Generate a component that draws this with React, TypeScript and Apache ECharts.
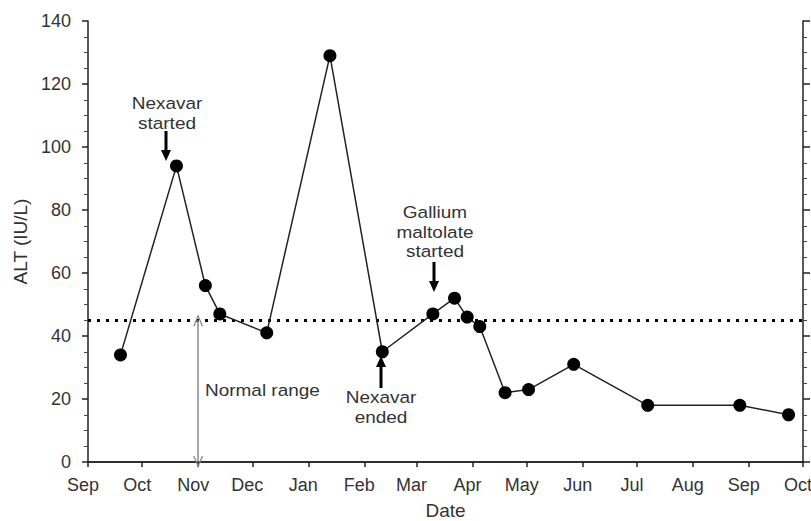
import React, { useEffect, useRef } from "react";
import * as echarts from "echarts";

const dates = [
  "2007-09-19", "2007-10-20", "2007-11-05", "2007-11-13", "2007-12-09",
  "2008-01-13", "2008-02-11", "2008-03-10", "2008-03-22", "2008-03-29",
  "2008-04-05", "2008-04-19", "2008-05-02", "2008-05-27", "2008-07-07",
  "2008-08-27", "2008-09-23",
];
const altValues = [34, 94, 56, 47, 41, 129, 35, 47, 52, 46, 43, 22, 23, 31, 18, 18, 15];
const monthNames = ["Jan", "Feb", "Mar", "Apr", "May", "Jun", "Jul", "Aug", "Sep", "Oct", "Nov", "Dec"];
const xMin = "2007-09-01";
const xMax = "2008-10-01";
const normalLimit = 45;
const normalArrowDate = "2007-11-01";

const FONT = "Liberation Sans, Arial, sans-serif";

function downArrow(x: number, y0: number, y1: number) {
  return [
    { type: "line", shape: { x1: x, y1: y0, x2: x, y2: y1 - 9 }, style: { stroke: "#000", lineWidth: 3 } },
    { type: "polygon", shape: { points: [[x - 5, y1 - 11], [x + 5, y1 - 11], [x, y1]] }, style: { fill: "#000" } },
  ];
}
function upArrow(x: number, y0: number, y1: number) {
  return [
    { type: "line", shape: { x1: x, y1: y0 + 9, x2: x, y2: y1 }, style: { stroke: "#000", lineWidth: 3 } },
    { type: "polygon", shape: { points: [[x - 5, y0 + 11], [x + 5, y0 + 11], [x, y0]] }, style: { fill: "#000" } },
  ];
}
function note(x: number, y: number, text: string, align = "center") {
  return {
    type: "text",
    x,
    y,
    scaleX: 1.15,
    style: { text, fill: "#333", font: `16.5px ${FONT}`, align, verticalAlign: "top", lineHeight: 19.5 },
  };
}

const chevron = "path://M0,10 L5,0 L10,10 L8.6,10 L5,2.6 L1.4,10 Z";

export default function App() {
  const ref = useRef<HTMLDivElement>(null);
  useEffect(() => {
    if (!ref.current) return;
    const chart = echarts.init(ref.current, undefined, { renderer: "svg" });
    const fmt = (v: number) => monthNames[new Date(v).getMonth()];
    const yCommon = {
      type: "value",
      min: 0,
      max: 140,
      interval: 20,
      splitLine: { show: false },
      axisLine: { show: true, lineStyle: { color: "#222", width: 1.5 } },
      minorTick: { show: true, splitNumber: 4, length: 4, lineStyle: { color: "#444", width: 1 } },
    };
    chart.setOption({
      animation: false,
      backgroundColor: "#fff",
      grid: { left: 88, right: 8, top: 21, bottom: 59, containLabel: false, outerBoundsMode: "none" },
      xAxis: [
        {
          type: "time",
          min: xMin,
          max: xMax,
          splitNumber: 12,
          name: "Date",
          nameLocation: "middle",
          nameGap: 39,
          nameTextStyle: { fontSize: 19, color: "#333", fontFamily: FONT },
          axisLine: { lineStyle: { color: "#222", width: 1.5 } },
          axisTick: { show: true, length: 5, inside: false, lineStyle: { color: "#222", width: 1.5 } },
          splitLine: { show: false },
          axisLabel: {
            formatter: fmt,
            fontSize: 18,
            color: "#333",
            fontFamily: FONT,
            margin: 14,
            padding: [0, 10, 0, 0],
            showMinLabel: true,
            showMaxLabel: true,
            hideOverlap: false,
          },
        },
        {
          type: "time",
          min: xMin,
          max: xMax,
          position: "top",
          axisLine: { show: true, lineStyle: { color: "#222", width: 1.5 } },
          axisTick: { show: false },
          axisLabel: { show: false },
          splitLine: { show: false },
        },
      ],
      yAxis: [
        {
          ...yCommon,
          name: "ALT (IU/L)",
          nameLocation: "middle",
          nameGap: 58,
          nameTextStyle: { fontSize: 19, color: "#333", fontFamily: FONT },
          axisTick: { show: true, length: 6, lineStyle: { color: "#222", width: 1.5 } },
          axisLabel: { fontSize: 18, color: "#333", fontFamily: FONT, margin: 17 },
        },
        {
          ...yCommon,
          position: "right",
          axisTick: { show: true, length: 7, lineStyle: { color: "#222", width: 1.5 } },
          axisLabel: { show: false },
        },
      ],
      series: [
        {
          type: "line",
          data: dates.map((d, i) => [d, altValues[i]]),
          symbol: "circle",
          symbolSize: 13,
          lineStyle: { color: "#222", width: 1.5 },
          itemStyle: { color: "#000" },
          z: 5,
          markLine: {
            silent: true,
            animation: false,
            label: { show: false },
            data: [
              [
                { coord: [xMin, normalLimit], symbol: "none" },
                { coord: [xMax, normalLimit], symbol: "none" },
              ],
              [
                {
                  coord: [normalArrowDate, normalLimit],
                  symbol: chevron,
                  symbolSize: [10, 12],
                  lineStyle: { color: "#888", width: 1.5, type: "solid" },
                },
                {
                  coord: [normalArrowDate, 0],
                  symbol: chevron,
                  symbolSize: [10, 12],
                  lineStyle: { color: "#888", width: 1.5, type: "solid" },
                },
              ],
            ],
            lineStyle: { color: "#000", width: 3, type: [3, 6] },
          },
        },
      ],
      graphic: [
        note(167, 94, "Nexavar\nstarted"),
        ...downArrow(166, 131, 161),
        note(435, 203, "Gallium\nmaltolate\nstarted"),
        ...downArrow(434, 262, 292),
        note(381, 388, "Nexavar\nended"),
        ...upArrow(381, 356, 388),
        note(205, 381, "Normal range", "left"),
      ],
    });
    return () => chart.dispose();
  }, []);
  return (
    <div
      ref={ref}
      style={{ position: "fixed", left: 0, top: 0, width: 811, height: 521, background: "#fff" }}
    />
  );
}
